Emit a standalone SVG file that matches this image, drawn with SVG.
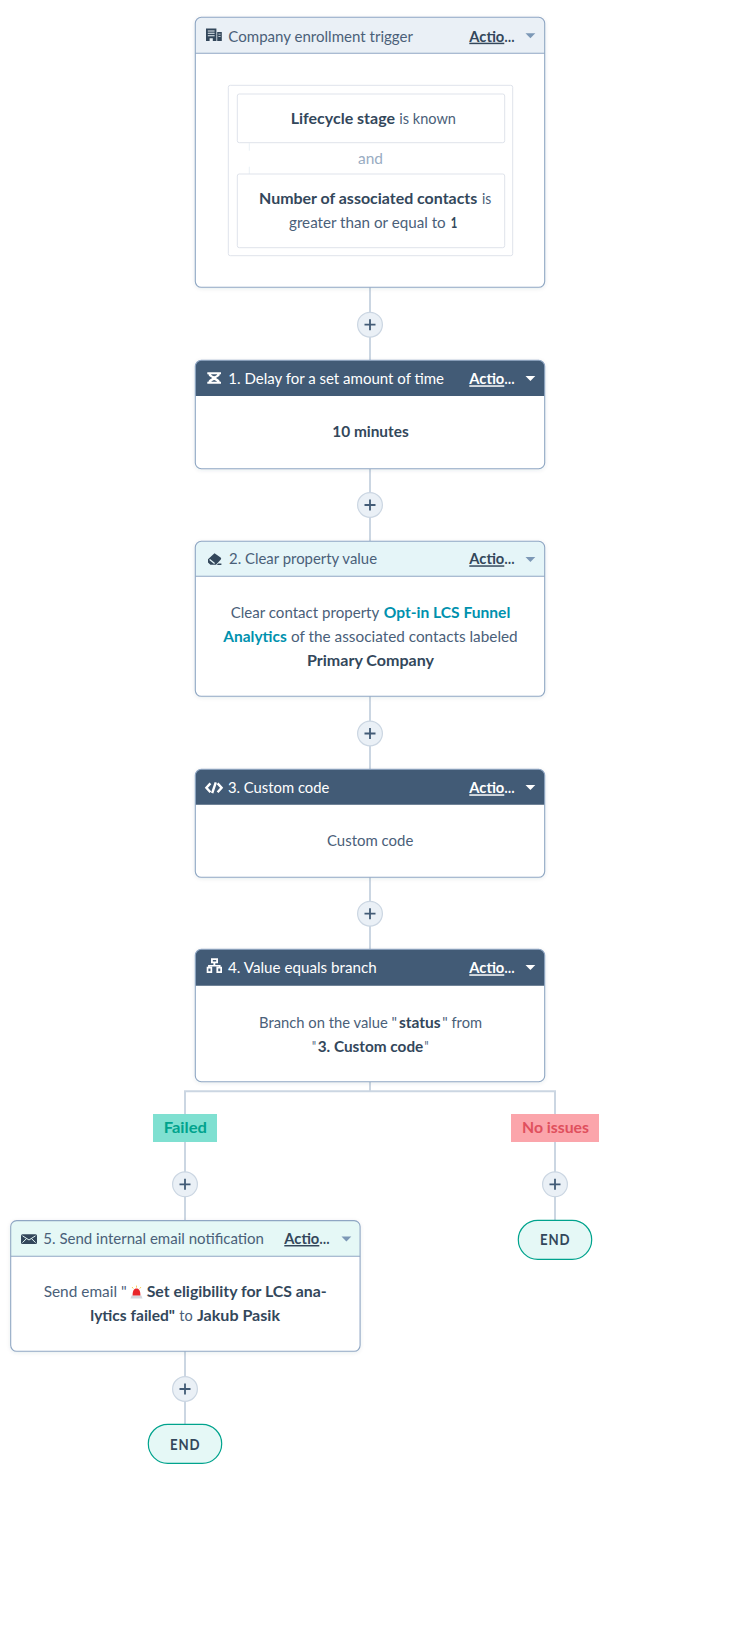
<svg xmlns="http://www.w3.org/2000/svg" width="740" height="1647" viewBox="0 0 740 1647">
<style>
text{font-family:"Lato","Liberation Sans",sans-serif;font-size:14.7px;fill:#4a6079}
.b,.act,.endt{fill:#33475b}
.b{font-weight:700}
.link{font-weight:700;fill:#0091ae}
.card{fill:#fff;stroke:none;filter:url(#sh)}
.edge{fill:none;stroke:#8fa6c3;stroke-width:1.1}
.hd-dark{fill:#425b76}
.hd-grey{fill:#eaf0f6}
.hd-blue{fill:#e5f5f8}
.hd-teal{fill:#e5f8f6}
.sep{stroke:#8fa6c3;stroke-width:1.1}
.white,.white tspan{fill:#fff}
.ic{fill:#33475b}
.wic{fill:#fff}
.caret-l{fill:#7c98b6}
.caret-d{fill:#fff}
.act{font-weight:700;text-decoration:underline}
.wire{fill:none;stroke:#cbd6e2;stroke-width:2}
.plus-c{fill:#eaf0f6;stroke:#cbd6e2;stroke-width:1.2}
.plus-p{stroke:#425b76;stroke-width:1.8;fill:none}
.inner{fill:#fff;stroke:#dfe3eb;stroke-width:1}
.end{fill:#e5f8f6;stroke:#00a38d;stroke-width:1.2}
.endt{font-weight:700;letter-spacing:1px}
</style>
<defs>
<filter id="sh" x="-5%" y="-5%" width="110%" height="115%"><feDropShadow dx="0" dy="1" stdDeviation="2" flood-color="#33475b" flood-opacity="0.12"/></filter>
<g id="plus"><circle class="plus-c" r="12.4"/><path class="plus-p" d="M-5.5 0H5.5M0-5.5V5.5"/></g>
</defs>

<g id="connectors">
<path class="wire" d="M370 287V360M370 469V541M370 696V769M370 877V949M370 1082V1091.3M184 1091.3H556M185 1091V1220M185 1351V1424M555 1091V1220"/>
</g>
<g id="plus-buttons">
<use href="#plus" x="370" y="324.7"/>
<use href="#plus" x="370" y="505"/>
<use href="#plus" x="370" y="733.5"/>
<use href="#plus" x="370" y="913.7"/>
<use href="#plus" x="185" y="1184.3"/>
<use href="#plus" x="555" y="1184.3"/>
<use href="#plus" x="185" y="1389"/>
</g>

<g id="trigger">
<rect class="card" x="195.3" y="17.3" width="349.4" height="270" rx="6"/>
<path class="hd-grey" d="M195.3 53.3V23.3a6 6 0 0 1 6-6H538.7a6 6 0 0 1 6 6V53.3Z"/>
<line class="sep" x1="195.3" y1="53.3" x2="544.7" y2="53.3"/>
<rect class="edge" x="195.3" y="17.3" width="349.4" height="270" rx="6"/>
<path class="ic" fill-rule="evenodd" d="M206 28.4H216.4V41H212.8V38.2H209.6V41H206ZM207.8 30.4V31.4H214.6V30.4ZM207.8 32.8V33.8H214.6V32.8ZM207.8 35.2V36.2H214.6V35.2ZM217.2 32H221.8V41H217.2ZM218.4 33.8V34.6H220.6V33.8ZM218.4 36.2V37H220.6V36.2Z"/>
<text x="228.3" y="41.7" textLength="184.7" lengthAdjust="spacingAndGlyphs">Company enrollment trigger</text>
<text y="41.7"><tspan class="act" x="469.3" textLength="35" lengthAdjust="spacingAndGlyphs">Actio</tspan><tspan class="b" x="504.5" textLength="10" lengthAdjust="spacingAndGlyphs">…</tspan></text>
<path class="caret-l" d="M525.5 33.3H535.3L530.4 38.2Z"/>
<rect class="inner" x="228.3" y="85.3" width="284.4" height="170.4" rx="2"/>
<rect class="inner" x="237.3" y="94" width="267.4" height="48.7" rx="2"/>
<path d="M249.3 143V150.7M249.3 166.7V174" stroke="#eaf0f6" stroke-width="1" fill="none"/>
<text y="124.3"><tspan class="b" x="290.7" textLength="104.3" lengthAdjust="spacingAndGlyphs">Lifecycle stage</tspan><tspan x="399.3" textLength="56.7" lengthAdjust="spacingAndGlyphs">is known</tspan></text>
<text x="358" y="164" textLength="25" lengthAdjust="spacingAndGlyphs" style="fill:#99acc2">and</text>
<rect class="inner" x="237.3" y="174" width="267.4" height="73.7" rx="2"/>
<text y="204"><tspan class="b" x="259" textLength="218.3" lengthAdjust="spacingAndGlyphs">Number of associated contacts</tspan><tspan x="482" textLength="9.3" lengthAdjust="spacingAndGlyphs">is</tspan></text>
<text y="228"><tspan x="289" textLength="156.7" lengthAdjust="spacingAndGlyphs">greater than or equal to</tspan><tspan class="b" x="450.7" textLength="6.6" lengthAdjust="spacingAndGlyphs">1</tspan></text>
</g>

<g id="step-1">
<rect class="card" x="195.3" y="360.3" width="349.4" height="108.4" rx="6"/>
<path class="hd-dark" d="M195.3 396V366.3a6 6 0 0 1 6-6H538.7a6 6 0 0 1 6 6V396Z"/>
<rect class="edge" x="195.3" y="360.3" width="349.4" height="108.4" rx="6"/>
<path class="wic" fill-rule="evenodd" d="M207.3 372.3H221V374.2H219.8C219.8 376.4 217.4 377 216 378C217.4 379 219.8 379.6 219.8 381.8H221V383.7H207.3V381.8H208.5C208.5 379.6 210.9 379 212.3 378C210.9 377 208.5 376.4 208.5 374.2H207.3ZM211 374.2C211 375 213 376 214.2 376.3C215.4 376 217.3 375 217.3 374.2ZM211.2 381.8H217.1C216.6 380.9 215 380.4 214.2 380C213.3 380.4 211.7 380.9 211.2 381.8Z"/>
<text x="228.3" y="384.3" textLength="215.7" lengthAdjust="spacingAndGlyphs" class="white">1. Delay for a set amount of time</text>
<text y="384.3" class="white"><tspan class="act" x="469.3" textLength="35" lengthAdjust="spacingAndGlyphs">Actio</tspan><tspan class="b" x="504.5" textLength="10" lengthAdjust="spacingAndGlyphs">…</tspan></text>
<path class="caret-d" d="M525.5 376H535.3L530.4 380.9Z"/>
<text class="b" x="332.3" y="437.3" textLength="76.4" lengthAdjust="spacingAndGlyphs">10 minutes</text>
</g>

<g id="step-2">
<rect class="card" x="195.3" y="541.3" width="349.4" height="155" rx="6"/>
<path class="hd-blue" d="M195.3 576.3V547.3a6 6 0 0 1 6-6H538.7a6 6 0 0 1 6 6V576.3Z"/>
<line class="sep" x1="195.3" y1="576.3" x2="544.7" y2="576.3"/>
<rect class="edge" x="195.3" y="541.3" width="349.4" height="155" rx="6"/>
<path class="ic" d="M214.5 553.3 220.6 557.5C221.3 558 221.3 559 220.8 559.6L216 564.8H210.4L208 562.4V559.2ZM216.8 564.9H221.4V563.5H218.2Z"/>
<path d="M209.6 559.4 214.6 563.4" stroke="#e5f5f8" stroke-width="1.3" fill="none"/>
<text x="229" y="564.3" textLength="148" lengthAdjust="spacingAndGlyphs">2. Clear property value</text>
<text y="564.3"><tspan class="act" x="469.3" textLength="35" lengthAdjust="spacingAndGlyphs">Actio</tspan><tspan class="b" x="504.5" textLength="10" lengthAdjust="spacingAndGlyphs">…</tspan></text>
<path class="caret-l" d="M525.5 557H535.3L530.4 561.9Z"/>
<text y="618.3"><tspan x="230.7" textLength="148.6" lengthAdjust="spacingAndGlyphs">Clear contact property</tspan><tspan class="link" x="383.7" textLength="126.6" lengthAdjust="spacingAndGlyphs">Opt-in LCS Funnel</tspan></text>
<text y="642.3"><tspan class="link" x="223.3" textLength="63.4" lengthAdjust="spacingAndGlyphs">Analytics</tspan><tspan x="291" textLength="226.7" lengthAdjust="spacingAndGlyphs">of the associated contacts labeled</tspan></text>
<text class="b" x="307" y="666.3" textLength="127" lengthAdjust="spacingAndGlyphs">Primary Company</text>
</g>

<g id="step-3">
<rect class="card" x="195.3" y="769.3" width="349.4" height="108" rx="6"/>
<path class="hd-dark" d="M195.3 804.7V775.3a6 6 0 0 1 6-6H538.7a6 6 0 0 1 6 6V804.7Z"/>
<rect class="edge" x="195.3" y="769.3" width="349.4" height="108" rx="6"/>
<path d="M210.4 783.4 206.4 787.8 210.4 792.2M217.6 783.4 221.6 787.8 217.6 792.2M215.8 782.4 212.2 793.2" stroke="#fff" stroke-width="2.4" fill="none"/>
<text x="228" y="793.3" textLength="101.3" lengthAdjust="spacingAndGlyphs" class="white">3. Custom code</text>
<text y="793.3" class="white"><tspan class="act" x="469.3" textLength="35" lengthAdjust="spacingAndGlyphs">Actio</tspan><tspan class="b" x="504.5" textLength="10" lengthAdjust="spacingAndGlyphs">…</tspan></text>
<path class="caret-d" d="M525.5 785H535.3L530.4 789.9Z"/>
<text x="327" y="846" textLength="86.3" lengthAdjust="spacingAndGlyphs">Custom code</text>
</g>

<g id="step-4">
<rect class="card" x="195.3" y="949.3" width="349.4" height="132.4" rx="6"/>
<path class="hd-dark" d="M195.3 985.7V955.3a6 6 0 0 1 6-6H538.7a6 6 0 0 1 6 6V985.7Z"/>
<rect class="edge" x="195.3" y="949.3" width="349.4" height="132.4" rx="6"/>
<path class="wic" fill-rule="evenodd" d="M211 958.3H218V963.2H215.3V965H220.6V966.8H222V973H216.4V966.8H219V966.6H209.7V966.8H212.2V973H206.7V966.8H208.1V965H213.4V963.2H211ZM212.8 960V961.6H216.2V960ZM208.4 968.6V971.2H210.5V968.6ZM218.2 968.6V971.2H220.3V968.6Z"/>
<text x="228" y="973.3" textLength="148.7" lengthAdjust="spacingAndGlyphs" class="white">4. Value equals branch</text>
<text y="973.3" class="white"><tspan class="act" x="469.3" textLength="35" lengthAdjust="spacingAndGlyphs">Actio</tspan><tspan class="b" x="504.5" textLength="10" lengthAdjust="spacingAndGlyphs">…</tspan></text>
<path class="caret-d" d="M525.5 965H535.3L530.4 969.9Z"/>
<text y="1027.7"><tspan x="259" textLength="138" lengthAdjust="spacingAndGlyphs">Branch on the value "</tspan><tspan class="b" x="399" textLength="41.7" lengthAdjust="spacingAndGlyphs">status</tspan><tspan x="442.3" textLength="39.7" lengthAdjust="spacingAndGlyphs">" from</tspan></text>
<text y="1051.5"><tspan x="312" textLength="4" lengthAdjust="spacingAndGlyphs">"</tspan><tspan class="b" x="317.7" textLength="105.6" lengthAdjust="spacingAndGlyphs">3. Custom code</tspan><tspan x="424.5" textLength="4" lengthAdjust="spacingAndGlyphs">"</tspan></text>
</g>

<g id="label-failed">
<rect x="153" y="1114" width="64" height="28" fill="#7fe0d1"/>
<text class="b" x="163.7" y="1133.3" textLength="43.3" lengthAdjust="spacingAndGlyphs" style="fill:#00a38d">Failed</text>
</g>
<g id="label-no-issues">
<rect x="511" y="1114" width="88" height="28" fill="#fba5ab"/>
<text class="b" x="522" y="1133.3" textLength="67" lengthAdjust="spacingAndGlyphs" style="fill:#e0505d">No issues</text>
</g>

<g id="step-5">
<rect class="card" x="10.7" y="1220.6" width="349.4" height="130.7" rx="6"/>
<path class="hd-teal" d="M10.7 1256.3V1226.6a6 6 0 0 1 6-6H354.1a6 6 0 0 1 6 6V1256.3Z"/>
<line class="sep" x1="10.7" y1="1256.3" x2="360.1" y2="1256.3"/>
<rect class="edge" x="10.7" y="1220.6" width="349.4" height="130.7" rx="6"/>
<rect class="ic" x="21" y="1234.3" width="16" height="9.7" rx="1.5"/>
<path d="M22.5 1235.8 29 1240 35.5 1235.8M22.5 1242.6 26.5 1238.6M35.5 1242.6 31.5 1238.6" stroke="#e5f8f6" stroke-width="1" fill="none"/>
<text x="43.3" y="1244" textLength="220.7" lengthAdjust="spacingAndGlyphs">5. Send internal email notification</text>
<text y="1244"><tspan class="act" x="284.3" textLength="35" lengthAdjust="spacingAndGlyphs">Actio</tspan><tspan class="b" x="319.5" textLength="10" lengthAdjust="spacingAndGlyphs">…</tspan></text>
<path class="caret-l" d="M341.5 1236.5H351.3L346.4 1241.4Z"/>
<text y="1297.3"><tspan x="43.7" textLength="83" lengthAdjust="spacingAndGlyphs">Send email "</tspan><tspan class="b" x="146.7" textLength="180" lengthAdjust="spacingAndGlyphs">Set eligibility for LCS ana-</tspan></text>
<path d="M130.5 1298.6H142.5L141.4 1295.4H131.6Z" fill="#d4d8de"/>
<path d="M132.6 1295.4C132.6 1291 133.8 1288.6 136.5 1288.6S140.4 1291 140.4 1295.4Z" fill="#e8262b"/>
<path d="M136.5 1285.6V1287.6M132 1287 133.3 1288.6M141 1287 139.7 1288.6" stroke="#f7c948" stroke-width="0.9" fill="none"/>
<text y="1321"><tspan class="b" x="90.3" textLength="84.7" lengthAdjust="spacingAndGlyphs">lytics failed"</tspan><tspan x="179.3" textLength="13.4" lengthAdjust="spacingAndGlyphs">to</tspan><tspan class="b" x="197" textLength="83" lengthAdjust="spacingAndGlyphs">Jakub Pasik</tspan></text>
</g>

<g id="end-right">
<rect class="end" x="518.3" y="1220.3" width="73.4" height="39" rx="19.5"/>
<text class="endt" x="540" y="1245" textLength="30.5" lengthAdjust="spacingAndGlyphs">END</text>
</g>
<g id="end-left">
<rect class="end" x="148.3" y="1424.3" width="73.4" height="39" rx="19.5"/>
<text class="endt" x="170" y="1450" textLength="30.5" lengthAdjust="spacingAndGlyphs">END</text>
</g>
</svg>
